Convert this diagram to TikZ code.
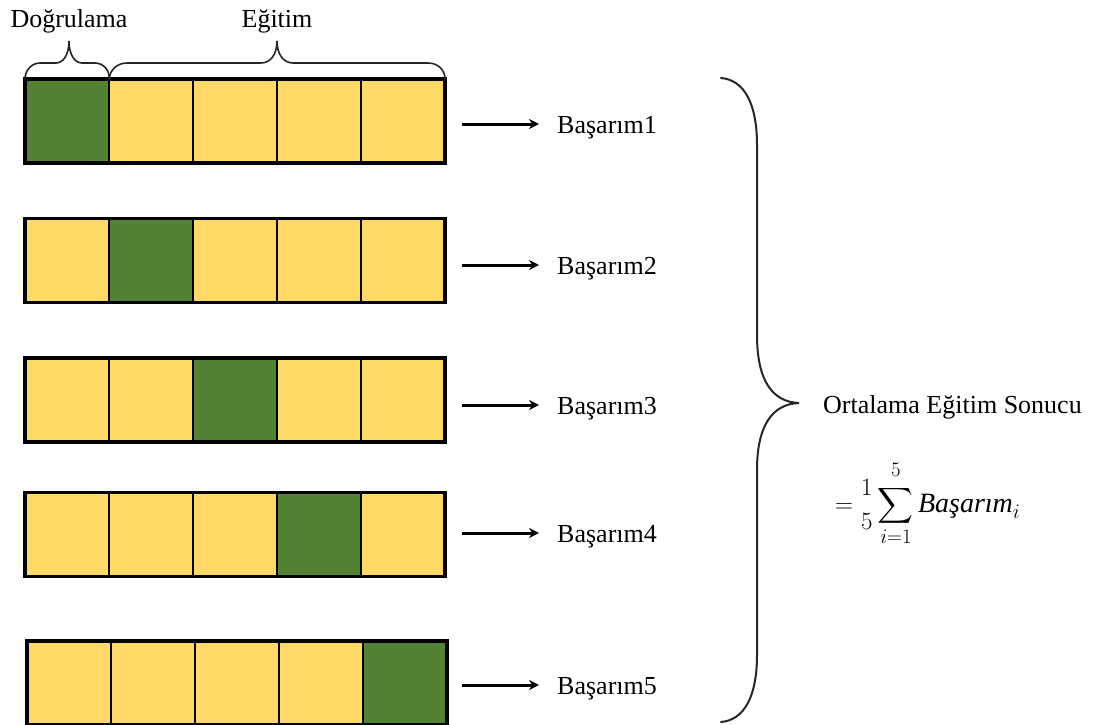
\documentclass[tikz,border=0pt]{standalone}
\usepackage{amsmath}
\usepackage{fontspec}
\setmainfont{Liberation Serif}
\usetikzlibrary{arrows.meta}
\definecolor{valgreen}{HTML}{548235}
\definecolor{trainyellow}{HTML}{FFD966}
\begin{document}
\begin{tikzpicture}[x=1pt,y=-1pt,
  cell/.style={draw=black, line width=2pt, minimum width=84pt, minimum height=84pt,
    inner sep=0pt, outer sep=0pt},
  frame/.style={draw=black, line width=3.5pt},
  lbl/.style={font=\fontsize{26}{30}\selectfont, inner sep=0pt, anchor=base west},
  toptext/.style={font=\fontsize{26}{30}\selectfont, inner sep=0pt, anchor=base},
  res/.style={-{Stealth[length=10pt,width=10pt]}, line width=3pt, shorten >=18pt},
  hbrace/.style={draw=black!85, line width=1.6pt, line cap=round},
  vbrace/.style={draw=black!85, line width=2pt, line cap=round}
]
\useasboundingbox (0,0) rectangle (1103,725);

% five folds: one validation cell (green) per row, the rest training cells
\foreach \r/\y/\xo in {1/121/25, 2/260.5/25, 3/400/25, 4/534.5/25, 5/683/27}{
  \foreach \c in {1,...,5}{
    \ifnum\c=\r \def\fc{valgreen}\else\def\fc{trainyellow}\fi
    \node[cell, fill=\fc] (r\r c\c) at (\xo+42+84*\c-84, \y) {};
  }
  \draw[frame] (r\r c1.north west) rectangle (r\r c5.south east);
}

% per-fold results
\foreach \r/\ay in {1/124, 2/265, 3/405, 4/533, 5/685}{
  \coordinate (s\r) at (462,\ay);
  \node[lbl] (b\r) at (557,\ay+9) {Başarım\r};
  \draw[res] (s\r) -- (s\r -| b\r.west);
}

% braces over the first row
\draw[hbrace] (r1c1.north west) .. controls (25,70) and (32,63) .. (40,63) -- (56,63)
  .. controls (63,63) and (69,55) .. (69,41)
  .. controls (69,55) and (75,63) .. (82,63) -- (95,63)
  .. controls (103,63) and (110,70) .. (r1c1.north east);
\draw[hbrace] (r1c2.north west) .. controls (110,70) and (117,63) .. (127,63) -- (261,63)
  .. controls (270,63) and (277,55) .. (277,41)
  .. controls (277,55) and (284,63) .. (293,63) -- (428,63)
  .. controls (438,63) and (445,70) .. (r1c5.north east);
\node[toptext] (dogr) at (69,28) {Doğrulama};
\node[toptext] (egit) at (277,28) {Eğitim};

% brace collecting all folds
\draw[vbrace] (721,78) .. controls (745,80) and (757,105) .. (757,145) -- (757,335)
  .. controls (757,380) and (772,402) .. (799,403)
  .. controls (772,404) and (757,426) .. (757,470) -- (757,655)
  .. controls (757,695) and (745,720) .. (721,722);

\node[lbl] (avg) at (823,413) {Ortalama Eğitim Sonucu};
\node[lbl, font=\fontsize{28}{32}\selectfont] (frm) at (835,512)
  {$\displaystyle =\genfrac{}{}{0pt}{0}{1}{5}\sum_{i=1}^{\raisebox{4pt}{$\scriptstyle 5$}}\textit{Başarım}_i$};
\end{tikzpicture}
\end{document}
